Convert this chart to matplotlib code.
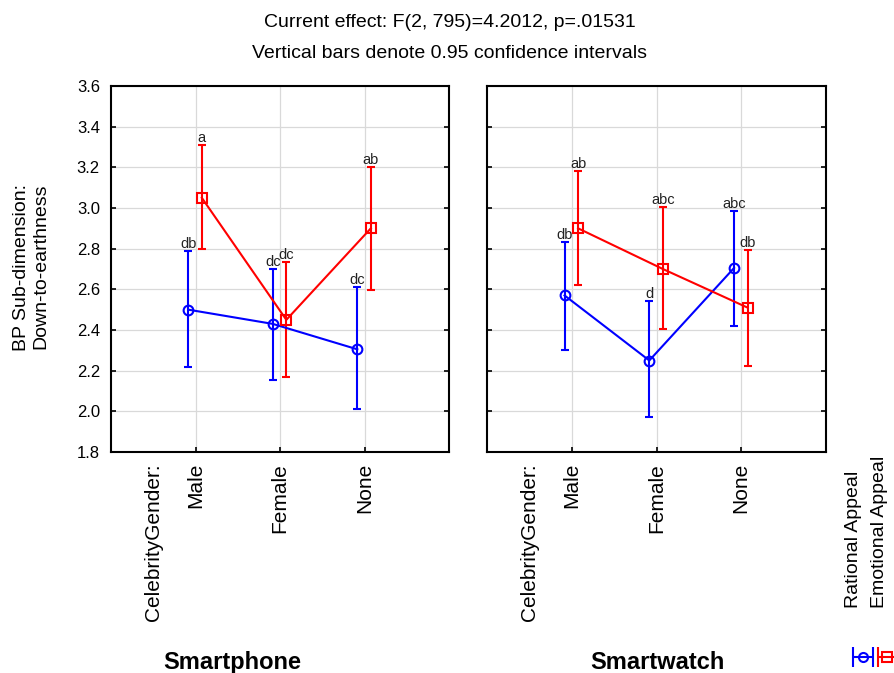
import matplotlib
matplotlib.use('Agg')
import matplotlib.pyplot as plt
import numpy as np

plt.rcParams['font.family'] = ['Liberation Sans', 'DejaVu Sans']

genders = ['Male', 'Female', 'None']
panels = ['Smartphone', 'Smartwatch']
series = ['Rational Appeal', 'Emotional Appeal']

# means and 95% CI bounds, per panel: [Male, Female, None]
rational_mean = [[2.50, 2.43, 2.305], [2.57, 2.25, 2.705]]
rational_lo = [[2.22, 2.155, 2.01], [2.30, 1.97, 2.42]]
rational_hi = [[2.79, 2.70, 2.61], [2.835, 2.545, 2.985]]
emotional_mean = [[3.05, 2.45, 2.90], [2.90, 2.70, 2.51]]
emotional_lo = [[2.80, 2.17, 2.595], [2.62, 2.405, 2.225]]
emotional_hi = [[3.31, 2.735, 3.20], [3.18, 3.005, 2.795]]
rational_letters = [['db', 'dc', 'dc'], ['db', 'd', 'abc']]
emotional_letters = [['a', 'dc', 'ab'], ['ab', 'abc', 'db']]

yticks = [1.8, 2.0, 2.2, 2.4, 2.6, 2.8, 3.0, 3.2, 3.4, 3.6]

fig = plt.figure(figsize=(8.94, 6.73), dpi=100)
ax1 = fig.add_axes([111/894, 1-452/673, 338/894, 366/673])
ax2 = fig.add_axes([487/894, 1-452/673, 339/894, 366/673])

x = np.arange(1, 4)
styles = [('#0000ff', 'o', -0.085, rational_mean, rational_lo, rational_hi, rational_letters),
          ('#ff0000', 's', 0.075, emotional_mean, emotional_lo, emotional_hi, emotional_letters)]

for i, ax in enumerate([ax1, ax2]):
    for col, mk, off, m, lo, hi, lett in styles:
        mm = np.array(m[i]); l = np.array(lo[i]); h = np.array(hi[i])
        ax.errorbar(x + off, mm, yerr=[mm - l, h - mm], color=col, marker=mk,
                    markersize=7, markerfacecolor='none', markeredgewidth=1.5,
                    lw=1.5, capsize=3, capthick=1.5, elinewidth=1.5, zorder=3)
        for xi, hv, t in zip(x + off, h, lett[i]):
            ax.text(xi, hv, t, ha='center', va='bottom', fontsize=10.5, color='#222222')
    ax.set_xlim(0, 4)
    ax.set_ylim(1.8, 3.6)
    ax.set_yticks(yticks)
    ax.set_xticks(x)
    ax.set_xticklabels(genders, rotation=90, va='top')
    ax.grid(True, color='#d9d9d9', lw=0.9, zorder=0)
    ax.set_axisbelow(True)
    ax.tick_params(direction='in', length=3.5, width=1.2, left=True, right=True,
                   bottom=True, top=False, labelsize=12, pad=8)
    ax.tick_params(axis='x', pad=8, labelsize=15)
    for s in ax.spines.values():
        s.set_linewidth(1.5)
    ax.annotate('CelebrityGender:', xy=(0.5, 0), xycoords=('data', 'axes fraction'),
                xytext=(0, -8.5), textcoords='offset points', rotation=90,
                ha='center', va='top', fontsize=15)

ax2.set_yticklabels([])

fig.text(0.503, 0.966, 'Current effect: F(2, 795)=4.2012, p=.01531', ha='center', va='center', fontsize=14)
fig.text(0.503, 0.921, 'Vertical bars denote 0.95 confidence intervals', ha='center', va='center', fontsize=14)
fig.text(0.035, 0.603, 'BP Sub-dimension:\nDown-to-earthness', rotation=90, ha='center', va='center',
         multialignment='right', fontsize=14)
fig.text(232/894, 0.015, panels[0], ha='center', va='center', fontsize=17, fontweight='bold')
fig.text(657/894, 0.015, panels[1], ha='center', va='center', fontsize=17, fontweight='bold')

# legend
fig.text(853/894, 1-608/673, series[0], rotation=90, ha='center', va='bottom', fontsize=14)
fig.text(880/894, 1-608/673, series[1], rotation=90, ha='center', va='bottom', fontsize=14)
lg = fig.add_axes([0, 0, 1, 1], frameon=False)
lg.set_xlim(0, 894); lg.set_ylim(673, 0)
lg.set_xticks([]); lg.set_yticks([])
lg.errorbar([863], [657], xerr=[[10], [10]], color='#0000ff', marker='o', markersize=6.5,
            markerfacecolor='none', markeredgewidth=1.5, lw=1.5, capsize=7, capthick=1.5)
lg.errorbar([887], [657], xerr=[[9], [9]], color='#ff0000', marker='s', markersize=6.5,
            markerfacecolor='none', markeredgewidth=1.5, lw=1.5, capsize=7, capthick=1.5)

fig.savefig('out.png', dpi=100)
